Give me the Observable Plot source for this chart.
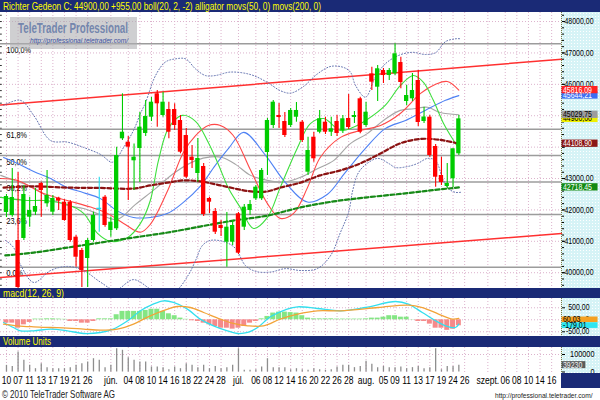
<!DOCTYPE html>
<html><head><meta charset="utf-8">
<script src="https://cdn.jsdelivr.net/npm/d3@7"></script>
<script src="https://cdn.jsdelivr.net/npm/@observablehq/plot@0.6"></script>
<style>
html,body{margin:0;padding:0;background:#fff}
#wrap{position:relative;width:600px;height:400px;overflow:hidden;font-family:'Liberation Sans',Arial,sans-serif}
.abs{position:absolute;left:0;width:600px}
.bar{background:#1a2a76}
.axbg{position:absolute;left:561px;width:39px;background-color:#d6f3f6;background-image:radial-gradient(circle,#ffffff 0.7px,transparent 0.9px);background-size:3px 3px}
svg{display:block}
</style></head><body>
<div id="wrap">
  <div class="abs bar" style="top:0;height:12px"><svg width="600" height="12"><text x="3" y="9.6" font-size="11" fill="#ffff00" textLength="318" lengthAdjust="spacingAndGlyphs">Richter Gedeon C: 44900,00 +955,00 boll(20, 2, -2) alligator movs(50, 0) movs(200, 0)</text></svg></div>
  <div class="axbg" style="top:12px;height:276px"></div>
  <div class="abs" id="main" style="top:12px;height:276px"></div>
  <div class="abs" style="top:12px;height:0">
    <svg width="140" height="40" style="position:absolute;left:10px;top:5px;overflow:visible">
      <rect x="0" y="0" width="127" height="32" fill="rgba(175,175,178,0.6)"/>
      <text x="8" y="16" font-size="14" font-weight="bold" fill="#7486ad" textLength="110" lengthAdjust="spacingAndGlyphs">TeleTrader Professional</text>
      <text x="20" y="26" font-size="7.5" font-style="italic" fill="#3c52a0" textLength="98" lengthAdjust="spacingAndGlyphs">http://professional.teletrader.com/</text>
    </svg>
  </div>
  <div class="abs bar" style="top:288px;height:10px"><svg width="600" height="10"><text x="3" y="8.6" font-size="10.5" fill="#ffff00" textLength="61" lengthAdjust="spacingAndGlyphs">macd(12, 26, 9)</text></svg></div>
  <div class="axbg" style="top:298px;height:38px"></div>
  <div class="abs" id="macd" style="top:298px;height:38px"></div>
  <div class="abs bar" style="top:336px;height:11px"><svg width="600" height="11"><text x="3" y="9.2" font-size="10.5" fill="#ffff00" textLength="48" lengthAdjust="spacingAndGlyphs">Volume Units</text></svg></div>
  <div class="axbg" style="top:347px;height:26px"></div>
  <div class="abs" id="vol" style="top:347px;height:41px"></div>
  <div class="bar" style="position:absolute;left:561px;top:373px;width:39px;height:15px"></div>
  <div class="abs" style="top:388px;height:12px"><svg width="600" height="12">
    <text x="2" y="10" font-size="11" fill="#222" textLength="113" lengthAdjust="spacingAndGlyphs">© 2010 TeleTrader Software AG</text>
    <text x="495" y="10" font-size="6.6" fill="#222">http://professional.teletrader.com/</text>
  </svg></div>
</div>
<script>
// ---- daily candles (trading-day index 0 = first visible day) ----
const open  = [41918,41822,41026,41090,41768,41927,42841,42195,41927,42373, 42246,42246,41131,40708,40453,41026,42045,42405,41345,41399, 44265,44157,43564,43956,44434,44953,45698,45007,45198,45198, 44848,44370,43679,43160,43383,42364,41950,41504,40972,40972, 41876,41450,41982,42354,42354,43829,44689,45007,44816,44689, 44953,44794,43201,44316,44475,44794,44475,44816,44530,44912, 44944,45539,44689,46335,45909,46441,46281,46335,46695,45453, 45539,46122,44816,44953,44020,43096,42746,42991,43787];
const high  = [42491,43319,43192,42778,42405,42682,42883,43256,42459,42405, 42322,42300,41185,40771,41090,41927,43042,42459,41768,43998, 45698,44338,44100,45103,45485,45581,45804,45749,45431,45380, 45007,44593,44052,44275,43478,42405,42045,41663,41918,41663, 41918,42173,42300,42778,43319,44912,45485,45389,45103,45230, 45421,44848,44316,44475,45167,44953,44953,45007,45007,45676, 45135,45590,45431,46546,46600,46504,46504,47291,46864,45963, 46345,46440,45272,45007,44084,43679,43478,43947,45007];
const low   = [41759,41768,39497,41026,41450,41822,41768,42087,41822,41982, 41641,40972,40176,39529,39529,40972,41290,41450,41131,41345, 44211,42300,42619,42873,44338,44816,44635,44953,44265,44530, 43787,43001,43319,42883,41790,41886,41217,41153,40176,40867, 40580,41345,41822,42300,42300,43096,44593,44593,44307,44625, 44794,44147,43096,43520,44424,44402,44338,44338,44434,44561, 44752,44424,44635,45804,45453,46026,46122,46281,45858,45326, 45453,44657,44752,43679,42724,42778,42682,42714,43733];
const close = [42427,42396,39529,42491,41982,42109,42619,42459,42364,42278, 41663,41026,40494,40071,41026,41822,42045,41504,41609,43733, 44475,43998,43679,44635,44975,45431,45380,45431,44475,44689, 43838,43042,43574,43638,41854,42246,41290,41408,41450,41504, 40622,42087,42173,42724,43256,44848,45431,44944,44370,45167, 45167,44211,43893,43628,44902,44475,44584,44434,44902,44625, 45007,44475,45112,46068,46495,46281,46441,46972,46058,45644, 45804,44784,44960,43733,43042,42873,42841,43947,44900];
const volume = [38000,32000,114000,67000,38000,19000,47000,25000,19000,19000, 19000,25000,38000,47000,57000,76000,67000,25000,38000,133000, 124000,82000,67000,57000,57000,29000,29000,25000,13000,29000, 19000,47000,38000,25000,38000,19000,32000,19000,25000,38000, 133000,10000,10000,13000,29000,76000,25000,25000,25000,13000, 19000,13000,10000,19000,13000,10000,13000,29000,38000,38000, 25000,32000,61000,44000,25000,32000,25000,25000,29000,19000, 25000,32000,19000,25000,133000,13000,32000,32000,39230];
const macdHist = [-140,-140,-350,-210,-110,30,30,40,40,30, 20,-70,-70,-140,-140,-70,40,40,40,210, 350,350,350,350,390,440,440,350,250,170, 70,20,-40,-70,-140,-210,-280,-350,-350,-390, -350,-280,-140,-70,40,140,280,320,320,300, 280,170,70,40,40,40,40,30,30,30, 30,30,40,70,70,110,170,170,110,110, 10,-70,-70,-180,-350,-350,-440,-390,-250];

// ---- indicator readings [dayIndex, value] ----
const bollUpper = [[-0.5,45330],[2.4,45490],[4.7,45010],[7.6,44210],[10.5,44160],[13.3,43990],[16.2,43770],[18.3,43520],[20.2,43990],[21.9,44530],[23.1,45070],[24,45430],[25.7,46280],[27.4,46710],[29.1,46810],[30.9,46810],[32.6,46490],[34.3,46280],[36,46280],[38.6,46390],[42.1,46310],[45,46060],[47.2,45800],[49,45720],[51.2,45930],[53.6,46330],[55.9,46570],[58.1,46540],[59.3,46390],[60.2,45960],[61.9,45590],[63.6,46230],[65.3,46650],[67.6,46920],[70,47020],[72.2,46950],[74,47010],[75.7,47360],[77.4,47450],[78.3,47450]];
const bollLower = [[-0.2,41030],[1.2,40810],[2.4,40260],[4.7,39690],[7.6,40070],[10.5,40200],[13.3,40070],[16.2,39700],[18.8,39450],[21.9,39780],[25.7,39400],[29.1,39420],[31.4,39940],[32.6,40390],[33.8,40870],[35.2,41030],[37.8,40970],[39.5,40770],[41.2,40230],[43,40040],[45.5,40020],[48.1,40130],[50.7,40070],[53.6,40130],[55.9,40550],[57.6,41290],[59,41930],[59.7,42620],[60.7,43190],[62.4,43510],[64.1,43640],[65.9,43480],[67.1,43350],[69.1,43380],[70.9,43480],[72.6,43640],[74,43570],[75.2,43000],[76.2,42680],[77.4,42560],[78.3,42560]];
const bollMid = [[-1,43100],[1.9,42900],[4.7,42710],[7.6,42360],[10.5,42140],[13.3,42045],[16.2,41850],[19.1,41700],[22.2,42170],[25.7,42680],[29.1,43200],[32.6,43570],[35.2,43690],[37.2,43670],[39.5,43450],[42.1,43100],[45,42940],[47.8,42880],[50.7,43040],[53.6,43310],[56.4,43570],[59.3,44110],[62.2,44430],[65,44850],[67.9,45170],[70.2,45220],[72.6,45270],[74.8,45100],[78,45030]];
const jaw = [[-0.5,43670],[1.9,43480],[4.7,43220],[7.6,43000],[10.5,42710],[13.3,42550],[16.2,42360],[19.1,41970],[21.9,41760],[24.8,41760],[27.8,41890],[30.5,42240],[33.4,42750],[36,43420],[38.3,43960],[40.9,44470],[44.7,43730],[48.1,42870],[51.9,42250],[55.3,42490],[58.4,43190],[61.9,43960],[65.3,44590],[68.8,44850],[72.2,45170],[75.7,45490],[78,45640]];
const teeth = [[-1,43000],[1.9,42940],[6.4,42520],[10.5,42300],[14.5,42090],[17.4,41890],[20.2,41570],[23.1,41290],[24.8,41540],[27.8,42620],[30.5,43830],[32.6,44370],[34.8,44690],[36.9,44690],[39.1,44370],[42.1,43260],[45,42200],[47.2,41730],[49.5,41890],[51.9,42710],[54.1,43670],[57.6,44310],[61,44530],[64.5,44690],[67.9,45070],[71.4,45710],[74,46000],[76,46090],[78,45816]];
const lips = [[-1,42400],[3.6,42300],[6.4,42300],[10.5,42170],[13.3,41890],[15.7,41250],[17.9,41000],[20.9,41120],[23.1,41570],[24.8,42300],[26.2,43570],[27.9,44590],[30.3,45010],[32.6,44820],[34.8,44150],[36.6,43420],[38.3,42680],[40.3,42080],[42.6,41410],[45,41760],[47.2,42710],[50.2,43990],[52.4,44750],[54.7,44910],[57.6,44530],[59.8,44630],[62.2,44880],[65.3,45330],[67.9,45960],[70.2,46280],[71.9,46060],[73.6,45490],[75.3,44780],[77.1,44210],[78,43960]];
const ma50 = [[-0.5,42710],[4.7,42750],[10.5,42710],[16.2,42700],[21.9,42680],[24.8,42780],[27.8,42870],[30.5,42940],[33.4,42910],[36.9,42780],[42.1,42590],[45,42590],[47.2,42710],[50.7,42870],[54.1,43100],[57.6,43260],[61,43480],[64.5,43800],[67.9,44120],[71.4,44260],[74.8,44230],[78,44109]];
const ma200 = [[-0.2,40550],[4.7,40640],[10.5,40800],[16.2,40960],[21.9,41120],[27.8,41280],[33.4,41470],[39.1,41660],[45,41820],[50.7,42080],[56.4,42270],[62.2,42400],[67.9,42510],[73.1,42620],[78,42718]];
const macdLine = [[-0.5,-112],[1.2,-321],[2.4,-458],[4.7,-458],[7.6,-388],[10.5,-458],[13.3,-571],[16.2,-529],[18.4,-388],[20.9,-42],[23.1,375],[25.3,654],[27.1,792],[28.8,721],[31.2,446],[33.4,29],[35.7,-250],[38.1,-458],[39.8,-571],[41.6,-529],[43.3,-321],[45.5,125],[48.4,446],[50.2,542],[53.6,471],[57.6,375],[61.9,512],[67.1,762],[69.3,654],[71.7,304],[74,-42],[75.7,-250],[77.4,-321],[78,-179]];
const signalLine = [[-0.5,-179],[1.9,-250],[4.7,-292],[7.6,-321],[10.5,-346],[13.3,-388],[16.2,-429],[19.1,-388],[21.9,-179],[24.8,167],[27.8,446],[29.5,554],[31.7,512],[34,304],[36.9,29],[39.1,-154],[41.6,-250],[44.3,-250],[47.2,29],[50.2,238],[53.6,375],[57.6,375],[64.1,512],[69.3,612],[71.7,512],[74.5,238],[76.9,29],[78,60]];
const channelUpper = [[-1.03,45340],[95.7,46800]];
const channelLower = [[-1.03,39850],[95.7,41250]];
const fibLevels = [47290,44570,43730,42890,41855,40175];
const fibLabels = ["100,0%","61,8%","50,0%","38,2%","23,6%","0,0%"];

// ---- axes ----
const priceTicks = [40000,41000,42000,43000,44000,45000,46000,47000,48000];
const priceTickText = [40000,41000,42000,43000,46000,47000,48000]; // 44000/45000 sit under value boxes
const macdTicks = [-500,0,500];
const volTicks = [0,100000];
const tickIdx = [0,2,4,6,8,10,12,14,18,21,23,25,27,29,31,33,35,37,40,43,45,47,49,51,53,55,57,59,62,65,67,69,71,73,75,77,79,83,86,88,90,92,94];
const tickLab = ["10","07","11","13","17","19","21","26","jún.","04","08","10","14","16","18","22","24","28","júl.","06","08","12","14","16","20","22","26","28","aug.","05","09","11","13","17","19","24","26","szept.","06","08","10","14","16"];
const priceLast = [45644.21,45816.09,44900.00,45029.75,44108.90,42718.45];
const priceLastBg = ["#3c6ef2","#ff2222","#f0f000","#9c9c9c","#8a1616","#128a12"];
const priceLastFg = ["#fff","#fff","#000","#000","#fff","#fff"];
const macdLast = [60.03,-179.01];
const macdLastBg = ["#f5a020","#2ee6f0"];
const volLast = [39230];

// ---- build ----
const xDomain = [-1.03, 95.7];
const grid = "#dcb2cc";
const ff = "'Liberation Sans', Arial, sans-serif";
const fmt = v => v.toFixed(2).replace(".", ",");
const pts = a => a.map(([i, v]) => ({i, v}));
const candles = open.map((o, i) => ({i, o, h: high[i], l: low[i], c: close[i]}));
const cCol = d => d.c > d.o ? "#00cc00" : d.c < d.o ? "#ff0000" : "#22ddee";
const minorTicks = d3.range(39600, 48288, 200);
const labMap = new Map(tickIdx.map((d, k) => [d, tickLab[k]]));
const ln = (a, o) => Plot.line(pts(a), {x: "i", y: "v", curve: "catmull-rom", ...o});
const base = {width: 600, marginLeft: 0, marginRight: 39, marginTop: 0,
  x: {domain: xDomain, axis: null, label: null}, color: {type: "identity"},
  style: {background: "transparent", fontFamily: ff, fontSize: "9px", color: "#000"}};

function valueBox(v, t, bg, fg, half, dy = 0, x2 = 102.0) {
  return [
    Plot.rect([v], {x1: 95.8, x2, y1: d => d - half, y2: d => d + half, fill: bg, dy}),
    Plot.text([v], {x: 95.95, y: d => d, text: () => t, fill: fg, textAnchor: "start", fontSize: 8.2, dy})
  ];
}

const mainPlot = Plot.plot({...base, height: 276, marginBottom: 0,
  y: {domain: [39497, 48288], axis: null, label: null},
  marks: [
    Plot.ruleX(tickIdx, {stroke: grid, strokeDasharray: "1,2"}),
    Plot.ruleY(priceTicks, {stroke: grid, strokeDasharray: "1,2"}),
    Plot.ruleY(minorTicks, {x1: xDomain[0], x2: -0.72, stroke: "#333"}),
    Plot.ruleY(fibLevels, {stroke: "#9c9c9c", strokeWidth: 1.5}),
    Plot.text(fibLevels, {y: d => d, text: (d, k) => fibLabels[k], frameAnchor: "left", dx: 6, dy: 3, lineAnchor: "top", fontSize: 8.5, fill: "#000"}),
    ln(channelUpper, {stroke: "#ff3030", curve: "linear"}),
    ln(channelLower, {stroke: "#ff3030", curve: "linear"}),
    ln(bollUpper, {stroke: "#5f6fae", strokeWidth: 1, strokeDasharray: "1,2"}),
    ln(bollLower, {stroke: "#5f6fae", strokeWidth: 1, strokeDasharray: "1,2"}),
    ln(bollMid, {stroke: "#a6a6a6", strokeWidth: 1.1}),
    ln(jaw, {stroke: "#4f82f4", strokeWidth: 1.1}),
    ln(teeth, {stroke: "#ff4848", strokeWidth: 1.1}),
    ln(lips, {stroke: "#3edf3e", strokeWidth: 1.1}),
    ln(ma50, {stroke: "#8b1212", strokeWidth: 2.2, strokeDasharray: "4,2.5"}),
    ln(ma200, {stroke: "#178a17", strokeWidth: 2.2, strokeDasharray: "4,2.5"}),
    Plot.ruleX(candles, {x: "i", y1: "l", y2: "h", stroke: cCol, strokeWidth: 1.1}),
    Plot.rect(candles.filter(d => d.o !== d.c), {x1: d => d.i - 0.37, x2: d => d.i + 0.37, y1: "o", y2: "c", fill: cCol}),
    Plot.ruleY(candles.filter(d => d.o === d.c), {y: "o", x1: d => d.i - 0.42, x2: d => d.i + 0.42, stroke: "#22ddee", strokeWidth: 1.6}),
    Plot.ruleX([xDomain[1]], {stroke: "#7a7a40", strokeDasharray: "1,1"}),
    Plot.axisY({anchor: "right", ticks: minorTicks, tickSize: 2, tickFormat: () => "", label: null}),
    Plot.axisY({anchor: "right", ticks: priceTicks, tickSize: 3, tickFormat: () => "", label: null}),
    Plot.axisY({anchor: "right", ticks: priceTickText, tickSize: 0, tickPadding: 3, fontSize: 8.2, tickFormat: d => d + ",00", label: null}),
    ...priceLast.flatMap((v, k) => valueBox(v, fmt(v), priceLastBg[k], priceLastFg[k], 116))
  ]
});

const macdPlot = Plot.plot({...base, height: 38, marginBottom: 0,
  y: {domain: [-696, 887], axis: null, label: null},
  marks: [
    Plot.ruleX(tickIdx, {stroke: grid, strokeDasharray: "1,2"}),
    Plot.ruleY(macdTicks, {stroke: grid, strokeDasharray: "1,2"}),
    Plot.rect(macdHist.map((v, i) => ({i, v})), {x1: d => d.i - 0.43, x2: d => d.i + 0.43, y1: 0, y2: "v", fill: d => d.v >= 0 ? "#84e684" : "#f58a8a"}),
    ln(macdLine, {stroke: "#33dfee", strokeWidth: 1.3}),
    ln(signalLine, {stroke: "#f2a338", strokeWidth: 1.3}),
    Plot.ruleX([xDomain[1]], {stroke: "#7a7a40", strokeDasharray: "1,1"}),
    Plot.axisY({anchor: "right", ticks: macdTicks, tickSize: 3, tickPadding: 25, textAnchor: "end", fontSize: 8.2, tickFormat: d => d === 0 ? "0" : d + ",00", label: null}),
    ...macdLast.flatMap((v, k) => valueBox(v, fmt(v), macdLastBg[k], "#000", 118, 1.5))
  ]
});

const volPlot = Plot.plot({...base, height: 41, marginBottom: 15,
  y: {domain: [-8571, 140000], axis: null, label: null},
  marks: [
    Plot.ruleX(tickIdx, {stroke: grid, strokeDasharray: "1,2"}),
    Plot.ruleY([100000], {stroke: grid, strokeDasharray: "1,2"}),
    Plot.ruleX(volume.map((v, i) => ({i, v})), {x: "i", y1: 0, y2: "v", stroke: "#8e8e8e", strokeWidth: 1.3}),
    Plot.ruleX([xDomain[1]], {stroke: "#7a7a40", strokeDasharray: "1,1"}),
    Plot.axisY({anchor: "right", ticks: volTicks, tickSize: 3, tickPadding: 30, textAnchor: "end", fontSize: 8.6, tickFormat: d => String(d), label: null}),
    Plot.axisX({anchor: "bottom", ticks: tickIdx, tickSize: 0, tickPadding: 3.5, tickFormat: d => labMap.get(d), fontSize: 10, label: null}),
    ...volLast.flatMap(v => valueBox(v, String(v), "#5c5c5c", "#f2f2f2", 20000, 0, 99.9))
  ]
});

// narrow the chart-area texts (not the right-hand axis texts) to the reference's condensed look
function condense(svg, k) {
  svg.querySelectorAll("text").forEach(t => {
    const L = t.getComputedTextLength();
    if (L > 0 && t.getBBox().x < 555) { t.setAttribute("textLength", (L * k).toFixed(2)); t.setAttribute("lengthAdjust", "spacingAndGlyphs"); }
  });
}
[[mainPlot, "main"], [macdPlot, "macd"], [volPlot, "vol"]].forEach(([p, id]) => {
  document.getElementById(id).appendChild(p);
  condense(p, 0.85);
});
</script>
</body></html>
